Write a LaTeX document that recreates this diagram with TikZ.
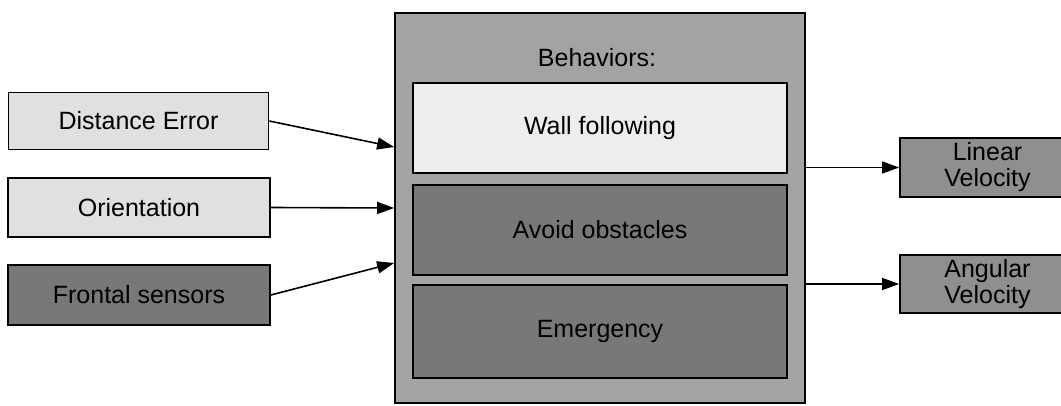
\documentclass[tikz,border=0pt]{standalone}
\usepackage{fontspec}
\setmainfont{Liberation Sans}
\usetikzlibrary{arrows.meta}
\definecolor{lightbox}{gray}{0.88}
\definecolor{whitebox}{gray}{0.93}
\definecolor{darkbox}{gray}{0.47}
\definecolor{bigbox}{gray}{0.64}
\definecolor{outbox}{gray}{0.56}
\begin{document}
\begin{tikzpicture}[x=1pt,y=-1pt,
  box/.style={draw=black,line width=1.7pt,rectangle,inner sep=0pt,align=center,
    font=\fontsize{25}{26}\selectfont},
  lightb/.style={box,fill=lightbox},
  darkb/.style={box,fill=darkbox},
  conn/.style={line width=1.6pt,-{Triangle[length=17pt,width=12pt]}}]
\path[use as bounding box,clip] (0,0) rectangle (1061,406);
\fill[white] (0,0) rectangle (1061,406);
% input boxes
\node[lightb,minimum width=260pt,minimum height=57pt] (de) at (138.5,121) {Distance Error};
\node[lightb,minimum width=262pt,minimum height=59pt] (ori) at (139,207.5) {Orientation};
\node[darkb,minimum width=262pt,minimum height=60pt] (fs) at (139,295) {Frontal sensors};
% behaviors container
\node[box,fill=bigbox,minimum width=410pt,minimum height=390pt] (big) at (600,208) {};
\node[font=\fontsize{25}{26}\selectfont,inner sep=0pt] (beh) at (597,58) {Behaviors:};
\node[box,fill=whitebox,minimum width=374pt,minimum height=90pt] (wf) at (600,128) {Wall following};
\node[darkb,minimum width=374pt,minimum height=90pt] (ao) at (600,230) {Avoid obstacles};
\node[darkb,minimum width=374pt,minimum height=93pt] (em) at (600,331.5) {Emergency};
% outputs
\node[box,fill=outbox,minimum width=175pt,minimum height=59pt] (lin) at (987.5,167.5) {Linear\\Velocity};
\node[box,fill=outbox,minimum width=175pt,minimum height=58pt] (ang) at (987.5,284) {Angular\\Velocity};
% connectors
\draw[conn] (de.east) -- ([yshift=61pt]big.west);
\draw[conn] (ori.east) -- (big.west);
\draw[conn] (fs.east) -- ([yshift=-55pt]big.west);
\draw[conn] (big.east |- lin.west) -- (lin.west);
\draw[conn] (big.east |- ang.west) -- (ang.west);
\end{tikzpicture}
\end{document}
